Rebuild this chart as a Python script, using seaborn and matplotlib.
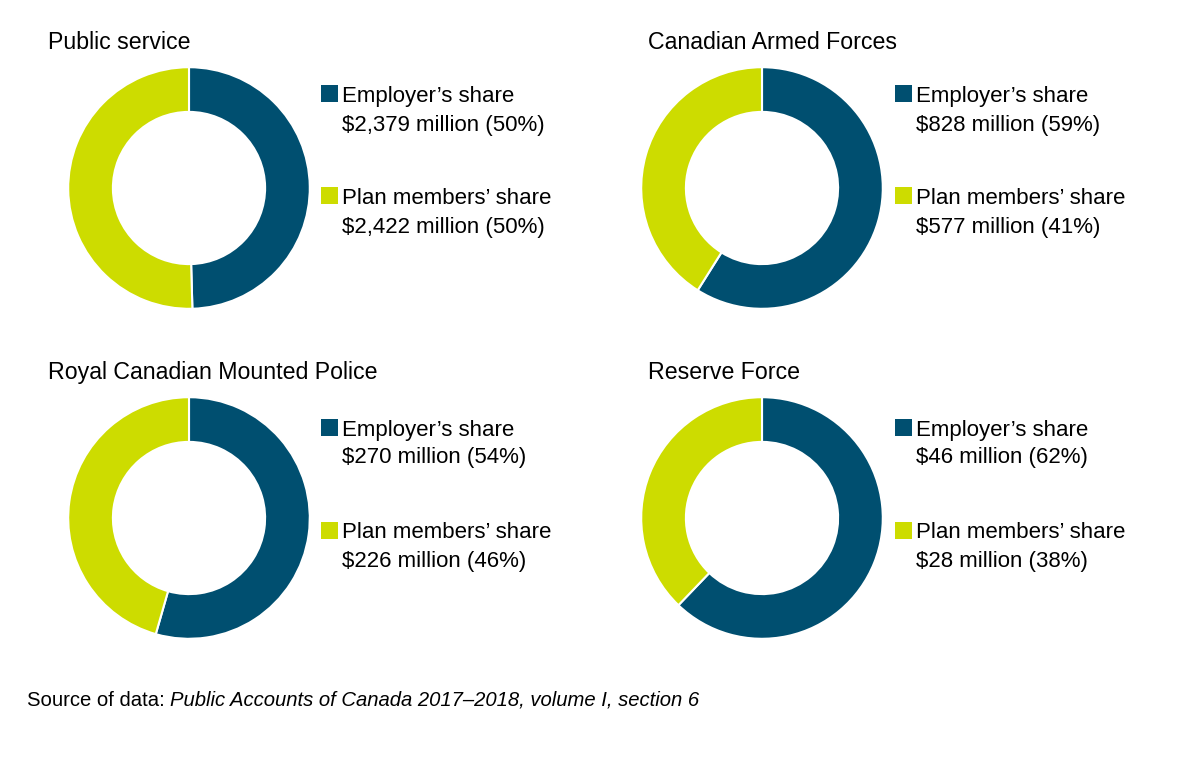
import matplotlib
matplotlib.use("Agg")
import matplotlib.pyplot as plt
from matplotlib.patches import Rectangle
import seaborn as sns

# ---- data ----
titles = ["Public service", "Canadian Armed Forces",
          "Royal Canadian Mounted Police", "Reserve Force"]
employer_share = [2379, 828, 270, 46]      # $ million
members_share = [2422, 577, 226, 28]       # $ million
employer_pct = [50, 59, 54, 62]
members_pct = [50, 41, 46, 38]
series_names = ["Employer\u2019s share", "Plan members\u2019 share"]
colors = ["#004f70", "#cddc00"]

sns.set_theme(style="white")
plt.rcParams["font.family"] = ["Liberation Sans", "DejaVu Sans"]

W, H = 1190, 767
fig = plt.figure(figsize=(W / 100, H / 100), dpi=100)
fig.patch.set_facecolor("white")

def fx(x):
    return x / W

def fy(y):
    return 1 - y / H

# layout (pixel positions)
centers = [(189, 188), (762, 188), (189, 518), (762, 518)]
R = 122
title_pos = [(48, 49), (648, 49), (48, 379), (648, 379)]
legend_x = [321, 895, 321, 895]
legend_rows = [[(85, 102, 131), (187, 204, 233)],
               [(85, 102, 131), (187, 204, 233)],
               [(419, 436, 463), (522, 538, 567)],
               [(419, 436, 463), (522, 538, 567)]]
FS = 16
TFS = 16.7

for i in range(4):
    cx, cy = centers[i]
    ax = fig.add_axes([fx(cx - R), fy(cy + R), 2 * R / W, 2 * R / H])
    ax.pie([employer_share[i], members_share[i]], colors=colors,
           startangle=90, counterclock=False, radius=1,
           wedgeprops=dict(width=0.37, edgecolor="white", linewidth=1.5))
    ax.set_xlim(-1.01, 1.01)
    ax.set_ylim(-1.01, 1.01)
    ax.set_axis_off()

    tx, ty = title_pos[i]
    fig.text(fx(tx), fy(ty), titles[i], fontsize=TFS, color="black",
             ha="left", va="baseline")

    values = [employer_share[i], members_share[i]]
    pcts = [employer_pct[i], members_pct[i]]
    for j in range(2):
        sq_top, base1, base2 = legend_rows[i][j]
        lx = legend_x[i]
        fig.patches.append(Rectangle((fx(lx), fy(sq_top + 17)), 17 / W, 17 / H,
                                     transform=fig.transFigure,
                                     facecolor=colors[j], edgecolor="none"))
        fig.text(fx(lx + 21), fy(base1), series_names[j], fontsize=FS,
                 color="black", ha="left", va="baseline")
        fig.text(fx(lx + 21), fy(base2), f"${values[j]:,} million ({pcts[j]}%)",
                 fontsize=FS, color="black", ha="left", va="baseline")

t1 = fig.text(fx(27), fy(706), "Source of data:", fontsize=14.6,
              color="black", ha="left", va="baseline")
ann = plt.gca().annotate("Public Accounts of Canada 2017\u20132018, volume I, section 6",
                         xy=(1, 0), xycoords=t1, xytext=(4, 0),
                         textcoords="offset points", fontsize=14.6,
                         fontstyle="italic", color="black",
                         ha="left", va="bottom", annotation_clip=False)

fig.savefig("out.png", dpi=100, facecolor="white")
